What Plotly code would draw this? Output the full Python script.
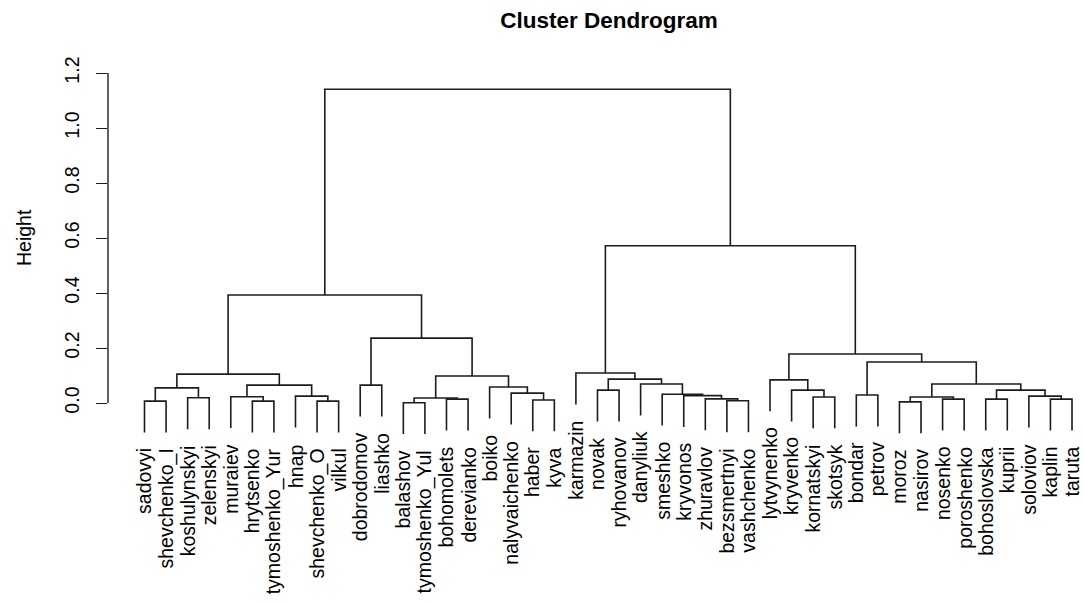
import plotly.graph_objects as go

# ---------------- data ----------------
leaf_labels = [
    "sadovyi", "shevchenko_I", "koshulynskyi", "zelenskyi", "muraiev", "hrytsenko",
    "tymoshenko_Yur", "hnap", "shevchenko_O", "vilkul", "dobrodomov", "liashko",
    "balashov", "tymoshenko_Yul", "bohomolets", "derevianko", "boiko", "nalyvaichenko",
    "haber", "kyva", "karmazin", "novak", "ryhovanov", "danyliuk", "smeshko",
    "kryvonos", "zhuravlov", "bezsmertnyi", "vashchenko", "lytvynenko", "kryvenko",
    "kornatskyi", "skotsyk", "bondar", "petrov", "moroz", "nasirov", "nosenko",
    "poroshenko", "bohoslovska", "kuprii", "soloviov", "kaplin", "taruta",
]

# merges: left child, right child (leaf name or index of an earlier merge)
merge_left = [
    "sadovyi", "koshulynskyi", 0, "hrytsenko", "muraiev", "shevchenko_O", "hnap", 4, 2,
    "dobrodomov", "balashov", "bohomolets", 10, "haber", "nalyvaichenko", "boiko", 12, 9, 8,
    "novak", "bezsmertnyi", "zhuravlov", "kryvonos", "smeshko", "danyliuk", 19, "karmazin",
    "kornatskyi", "kryvenko", "lytvynenko", "bondar", "moroz", "nosenko", 31,
    "bohoslovska", "kaplin", "soloviov", 34, 33, 30, 29, 26, 18,
]
merge_right = [
    "shevchenko_I", "zelenskyi", 1, "tymoshenko_Yur", 3, "vilkul", 5, 6, 7,
    "liashko", "tymoshenko_Yul", "derevianko", 11, "kyva", 13, 14, 15, 16, 17,
    "ryhovanov", "vashchenko", 20, 21, 22, 23, 24, 25,
    "skotsyk", 27, 28, "petrov", "nasirov", "poroshenko", 32,
    "kuprii", "taruta", 35, 36, 37, 38, 39, 40, 41,
]
merge_height = [
    0.007, 0.019, 0.055, 0.007, 0.023, 0.007, 0.025, 0.065, 0.105,
    0.065, 0.001, 0.014, 0.018, 0.011, 0.036, 0.058, 0.098, 0.236, 0.393,
    0.047, 0.008, 0.015, 0.027, 0.032, 0.069, 0.087, 0.109,
    0.022, 0.047, 0.084, 0.029, 0.004, 0.014, 0.022,
    0.014, 0.014, 0.025, 0.047, 0.069, 0.149, 0.178, 0.572, 1.141,
]

y_ticks = [0.0, 0.2, 0.4, 0.6, 0.8, 1.0, 1.2]
title_text = "Cluster Dendrogram"
y_title = "Height"

# ---------------- layout geometry ----------------
hang = 0.1 * max(merge_height)
leaf_pos = {name: i + 1 for i, name in enumerate(leaf_labels)}

node_x = []
xs, ys = [], []
leaf_ends = {}


def child_info(c, h):
    if isinstance(c, str):
        leaf_ends[c] = h - hang
        return leaf_pos[c], h - hang
    return node_x[c], merge_height[c]


for a, b, h in zip(merge_left, merge_right, merge_height):
    xa, ya = child_info(a, h)
    xb, yb = child_info(b, h)
    xs += [xa, xa, xb, xb, None]
    ys += [ya, h, h, yb, None]
    node_x.append((xa + xb) / 2)

W, H = 1085, 602
ml, mr, mt, mb = 108, 0, 40, 42
px_per_leaf = 21.57
x0 = 1 - (144.5 - ml) / px_per_leaf
x1 = x0 + (W - ml - mr) / px_per_leaf
px_per_unit = 275.0
y_zero_px = 403.0
y1 = (y_zero_px - mt) / px_per_unit
y0 = (y_zero_px - (H - mb)) / px_per_unit

font_family = "Liberation Sans, Arial, Helvetica, sans-serif"
line_color = "#1c1c1c"
fsize = 19.5

fig = go.Figure()
fig.add_trace(go.Scatter(
    x=xs, y=ys, mode="lines",
    line=dict(color=line_color, width=1.6),
    hoverinfo="skip", showlegend=False, cliponaxis=False,
))

annotations = []
for name in leaf_labels:
    annotations.append(dict(
        x=leaf_pos[name], y=leaf_ends[name], xref="x", yref="y",
        text=name, showarrow=False, textangle=-90,
        xanchor="center", yanchor="top", yshift=-14,
        font=dict(family=font_family, size=fsize, color="black"),
    ))

annotations.append(dict(
    x=(24 - ml) / (W - ml - mr), y=0.6, xref="paper", yref="y",
    text=y_title, showarrow=False, textangle=-90,
    xanchor="center", yanchor="middle",
    font=dict(family=font_family, size=fsize, color="black"),
))

fig.update_layout(
    width=W, height=H,
    margin=dict(l=ml, r=mr, t=mt, b=mb),
    paper_bgcolor="white", plot_bgcolor="white",
    title=dict(
        text="<b>" + title_text + "</b>",
        x=609 / W, xref="container", xanchor="center",
        y=1 - 20 / H, yref="container", yanchor="middle",
        font=dict(family=font_family, size=22.5, color="black"),
    ),
    annotations=annotations,
    shapes=[dict(
        type="line", xref="paper", yref="y", x0=0, x1=0,
        y0=y_ticks[0], y1=y_ticks[-1],
        line=dict(color=line_color, width=1.4),
    )],
    xaxis=dict(
        range=[x0, x1], showgrid=False, zeroline=False, showline=False,
        showticklabels=False, ticks="", fixedrange=True,
    ),
    yaxis=dict(
        range=[y0, y1], showgrid=False, zeroline=False, showline=False,
        tickmode="array", tickvals=y_ticks,
        ticktext=[f"{v:.1f}" for v in y_ticks],
        ticks="outside", ticklen=11, tickwidth=1.4, tickcolor=line_color,
        tickangle=-90, ticklabelstandoff=9,
        tickfont=dict(family=font_family, size=fsize, color="black"),
        fixedrange=True,
    ),
)

fig.write_html(
    "out.html",
    config={"displayModeBar": False},
    post_script="document.body.style.margin='0';document.body.style.overflow='hidden';",
)
